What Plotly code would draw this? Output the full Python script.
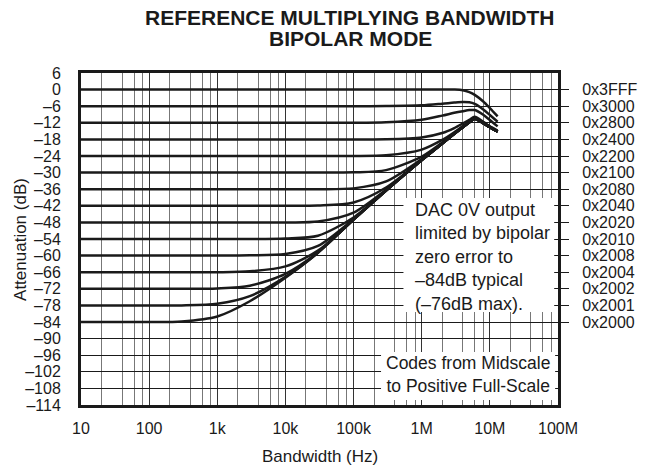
import plotly.graph_objects as go

# ---------------- data ----------------
freq_hz = [10, 100, 300, 1e3, 3e3, 1e4, 3e4, 1e5, 3e5, 1e6, 2e6, 3e6, 4e6, 5e6, 6e6, 8e6, 1e7, 1.3e7]

db_3FFF = [0, 0, 0, 0, 0, 0, 0, 0, 0, 0, 0, 0, -0.2, -0.9, -1.9, -4.3, -6.7, -9.7]
db_3000 = [-6, -6, -6, -6, -6, -6, -6, -6, -5.95, -5.7, -5.1, -4.7, -4.5, -4.6, -5.2, -7.2, -9.2, -11.6]
db_2800 = [-12, -12, -12, -12, -12, -12, -12, -12, -11.8, -10.9, -9.4, -8.4, -7.8, -7.4, -7.4, -9.1, -11.0, -13.3]
db_2400 = [-18, -18, -18, -18, -18, -18, -18, -18, -17.95, -17.3, -15.7, -13.9, -12.25, -10.9, -9.8, -11.6, -13.3, -14.8]
db_2200 = [-24, -24, -24, -24, -24, -24, -24, -24, -23.75, -21.7, -18.2, -15.4, -13.2, -11.5, -10.3, -11.9, -13.4, -15.0]
db_2100 = [-30, -30, -30, -30, -30, -30, -30, -29.9, -29.1, -24.2, -19.1, -15.8, -13.5, -11.8, -10.5, -12.1, -13.6, -15.2]
db_2080 = [-36, -36, -36, -36, -36, -36, -36, -35.7, -33.2, -25.1, -19.4, -16.0, -13.6, -11.8, -10.5, -12.1, -13.6, -15.2]
db_2040 = [-42, -42, -42, -42, -42, -42, -41.9, -40.8, -35.4, -25.4, -19.5, -16.0, -13.6, -11.8, -10.5, -12.1, -13.6, -15.2]
db_2020 = [-48, -48, -48, -48, -48, -48, -47.7, -44.5, -36.2, -25.5, -19.5, -16.0, -13.6, -11.8, -10.5, -12.1, -13.6, -15.2]
db_2010 = [-54, -54, -54, -54, -54, -53.8, -52.8, -46.2, -36.4, -25.5, -19.5, -16.0, -13.6, -11.8, -10.5, -12.1, -13.6, -15.2]
db_2008 = [-60, -60, -60, -60, -59.9, -59.4, -56.5, -46.8, -36.5, -25.5, -19.5, -16.0, -13.6, -11.8, -10.5, -12.1, -13.6, -15.2]
db_2004 = [-66, -66, -66, -66, -65.7, -63.9, -58.2, -46.95, -36.5, -25.5, -19.5, -16.0, -13.6, -11.8, -10.5, -12.1, -13.6, -15.2]
db_2002 = [-72, -72, -72, -71.85, -70.9, -66.6, -58.8, -47.0, -36.5, -25.5, -19.5, -16.0, -13.6, -11.8, -10.5, -12.1, -13.6, -15.2]
db_2001 = [-78, -78, -78, -77.4, -74.65, -67.7, -58.95, -47.0, -36.5, -25.5, -19.5, -16.0, -13.6, -11.8, -10.5, -12.1, -13.6, -15.2]
db_2000 = [-84, -84, -83.8, -82.0, -76.5, -68.0, -59.0, -47.0, -36.5, -25.5, -19.5, -16.0, -13.6, -11.8, -10.5, -12.1, -13.6, -15.2]

codes = ["0x3FFF", "0x3000", "0x2800", "0x2400", "0x2200", "0x2100", "0x2080",
         "0x2040", "0x2020", "0x2010", "0x2008", "0x2004", "0x2002", "0x2001", "0x2000"]
code_levels = [0, -6, -12, -18, -24, -30, -36, -42, -48, -54, -60, -66, -72, -78, -84]

y_ticks = list(range(-114, 7, 6))
y_ticktext = [("\u2013" + str(-v)) if v < 0 else str(v) for v in y_ticks]
x_ticks = [10, 100, 1e3, 1e4, 1e5, 1e6, 1e7, 1e8]
x_ticktext = ["10", "100", "1k", "10k", "100k", "1M", "10M", "100M"]
x_minor = [m * 10 ** e for e in range(1, 8) for m in (2, 4, 6, 8)]

series = [db_3FFF, db_3000, db_2800, db_2400, db_2200, db_2100, db_2080, db_2040,
          db_2020, db_2010, db_2008, db_2004, db_2002, db_2001, db_2000]

FONT = "Liberation Sans, Arial, Helvetica, sans-serif"
INK = "#1a1a1a"

fig = go.Figure()
for code, vals in zip(codes, series):
    fig.add_trace(go.Scatter(x=freq_hz, y=vals, mode="lines", name=code,
                             line=dict(color=INK, width=2.5, shape="spline", smoothing=0.8),
                             showlegend=False, hoverinfo="skip"))
# helper trace to carry the right-hand code axis
fig.add_trace(go.Scatter(x=[freq_hz[0]], y=[code_levels[0]], yaxis="y2", mode="lines",
                         line=dict(width=0), showlegend=False, hoverinfo="skip"))

fig.update_layout(
    width=650, height=470,
    margin=dict(l=81, r=78, t=73, b=65),
    paper_bgcolor="white", plot_bgcolor="white",
    font=dict(family=FONT, size=16, color=INK),
    xaxis=dict(type="log", range=[1, 8], tickvals=x_ticks, ticktext=x_ticktext,
               showgrid=True, gridcolor="#333333", gridwidth=1,
               minor=dict(tickvals=x_minor, showgrid=True, gridcolor="#777777", gridwidth=1),
               showline=True, linecolor=INK, linewidth=3, mirror=True,
               ticks="", ticklabelstandoff=7, zeroline=False,
               tickfont=dict(size=16)),
    yaxis=dict(range=[-114, 6], tickvals=y_ticks, ticktext=y_ticktext,
               showgrid=True, gridcolor=INK, gridwidth=1,
               showline=True, linecolor=INK, linewidth=3, mirror=True,
               ticks="", ticklabelstandoff=14, zeroline=False,
               tickfont=dict(size=16)),
    yaxis2=dict(overlaying="y", side="right", range=[-114, 6],
                tickvals=code_levels, ticktext=codes,
                ticks="outside", ticklen=10, tickwidth=1, tickcolor=INK,
                showgrid=False, zeroline=False, showline=False,
                ticklabelstandoff=10, tickfont=dict(size=16)),
    shapes=[
        dict(type="rect", xref="paper", yref="paper", x0=0.676, x1=0.992, y0=0.280, y1=0.6235,
             fillcolor="white", line=dict(width=0), layer="above"),
        dict(type="rect", xref="paper", yref="paper", x0=0.629, x1=0.994, y0=0.015, y1=0.160,
             fillcolor="white", line=dict(width=0), layer="above"),
    ],
    annotations=[
        dict(text="<b>REFERENCE MULTIPLYING BANDWIDTH</b>", xref="paper", yref="paper",
             x=0.564, y=1.167, xanchor="center", yanchor="middle", showarrow=False,
             font=dict(size=21)),
        dict(text="<b>BIPOLAR MODE</b>", xref="paper", yref="paper",
             x=0.564, y=1.105, xanchor="center", yanchor="middle", showarrow=False,
             font=dict(size=21)),
        dict(text="Attenuation (dB)", textangle=-90, xref="paper", yref="paper",
             x=-0.128, y=0.5, xanchor="center", yanchor="middle", showarrow=False,
             font=dict(size=17)),
        dict(text="Bandwidth (Hz)", xref="paper", yref="paper",
             x=0.5, y=-0.155, xanchor="center", yanchor="middle", showarrow=False,
             font=dict(size=17)),
        dict(text="DAC 0V output<br>limited by bipolar<br>zero error to<br>\u201384dB typical<br>(\u201376dB max).",
             xref="paper", yref="paper", x=0.696, y=0.447, xanchor="left", yanchor="middle",
             showarrow=False, align="left", font=dict(size=18)),
        dict(text="Codes from Midscale<br>to Positive Full-Scale",
             xref="paper", yref="paper", x=0.8106, y=0.0904, xanchor="center", yanchor="middle",
             showarrow=False, align="center", font=dict(size=17.5)),
    ],
)

# remove the browser's default 8px page margin so the 650x470 figure fills the window
fig.write_html("out.html", config={"displayModeBar": False},
               post_script="document.body.style.margin='0';")
